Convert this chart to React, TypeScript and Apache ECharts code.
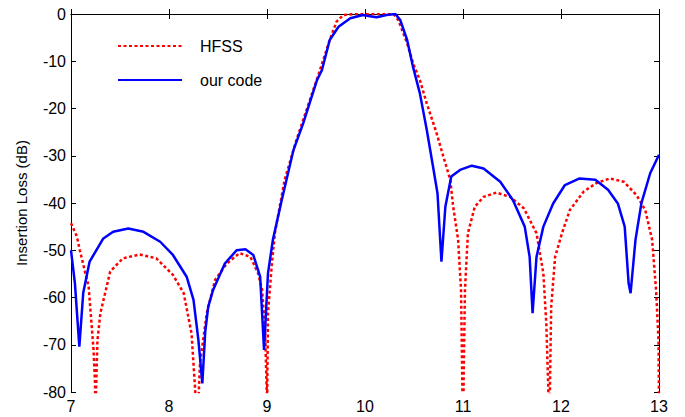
import React, { useEffect, useRef } from "react";
import * as echarts from "echarts";

const xTicks = [7, 8, 9, 10, 11, 12, 13];
const yTicks = [0, -10, -20, -30, -40, -50, -60, -70, -80];

const hfssFreq = [
  7.0, 7.06, 7.09, 7.18, 7.23, 7.245, 7.25, 7.255, 7.27, 7.3, 7.4, 7.53, 7.7, 7.87, 8.04, 8.15, 8.23, 8.265, 8.28,
  8.29, 8.3, 8.316, 8.385, 8.47, 8.59, 8.72, 8.83, 8.91, 8.95, 8.98, 8.997, 9.0, 9.003, 9.01, 9.05, 9.08, 9.18,
  9.3, 9.54, 9.64, 9.71, 9.78, 9.92, 10.1, 10.29, 10.34, 10.43, 10.49, 10.56, 10.63, 10.73, 10.8, 10.87, 10.9,
  10.95, 10.98, 10.993, 11.0, 11.007, 11.02, 11.05, 11.12, 11.21, 11.34, 11.48, 11.62, 11.75, 11.82, 11.85,
  11.87, 11.88, 11.89, 11.9, 11.94, 12.01, 12.09, 12.23, 12.36, 12.5, 12.64, 12.77, 12.86, 12.93, 12.97, 12.995,
  13.0,
];
const hfssLoss = [
  -44.3, -47.1, -50, -57.7, -71.1, -78, -90, -80, -69, -63.3, -54.5, -51.7, -50.9, -51.7, -55.2, -59.1, -67.6,
  -78.9, -85, -90, -82, -74, -63.3, -56.3, -52.8, -50.6, -51.4, -54.9, -58.4, -66.9, -79.6, -90, -78, -63.3,
  -52.8, -46.4, -35.1, -26.7, -11.9, -5.5, -1.6, -0.2, 0, 0, 0, -1.3, -6.2, -10.4, -14, -18.9, -25.2, -30.2,
  -35.1, -40.8, -47.8, -58.4, -78, -90, -76, -58.4, -46.4, -40.8, -38.7, -37.8, -38.7, -41.1, -46.4, -54.9,
  -65.5, -78.9, -90, -75, -61.9, -51.4, -46.4, -41.5, -37.6, -35.8, -34.8, -35.5, -38.3, -41.5, -47.8, -58.4,
  -69, -82,
];

const oursFreq = [
  7.0, 7.04, 7.085, 7.125, 7.19, 7.33, 7.43, 7.585, 7.74, 7.91, 8.04, 8.18, 8.25, 8.3, 8.34, 8.37, 8.4, 8.45,
  8.57, 8.69, 8.78, 8.86, 8.93, 8.97, 9.01, 9.06, 9.15, 9.27, 9.37, 9.51, 9.56, 9.64, 9.73, 9.85, 9.98, 10.05,
  10.12, 10.22, 10.31, 10.36, 10.43, 10.49, 10.56, 10.63, 10.7, 10.74, 10.78, 10.82, 10.88, 10.97, 11.09, 11.21,
  11.38, 11.51, 11.63, 11.68, 11.71, 11.75, 11.82, 11.92, 12.04, 12.19, 12.35, 12.48, 12.58, 12.65, 12.69,
  12.71, 12.76, 12.82, 12.91, 13.0,
];
const oursLoss = [
  -50, -57, -70.4, -59, -52.4, -47.5, -46.1, -45.4, -46.1, -48.2, -51, -55.6, -60.5, -69, -78.2, -67.2, -62,
  -58.4, -52.8, -50, -49.8, -51, -55.6, -71.1, -54.9, -47.8, -39.4, -28.8, -23.1, -14, -11.9, -5.5, -2.7, -0.9,
  -0.2, -0.5, -0.7, -0.2, 0, -1.3, -5.5, -11.2, -16.8, -24.5, -33, -38, -52.4, -40.8, -34.4, -33, -32.1, -32.7,
  -35.5, -39.4, -45, -51.4, -63.3, -51.4, -45, -40.1, -36.2, -34.8, -35.1, -37.2, -40.1, -45, -57, -59.1, -47.8,
  -40.1, -33.7, -29.8,
];

const FONT = "'Liberation Sans', Arial, sans-serif";

export default function App() {
  const ref = useRef<HTMLDivElement>(null);
  useEffect(() => {
    if (!ref.current) return;
    const chart = echarts.init(ref.current, null, { renderer: "svg" });
    const hfss = hfssFreq.map((x, i) => [x, hfssLoss[i]]);
    const ours = oursFreq.map((x, i) => [x, oursLoss[i]]);
    const axisLine = { show: true, lineStyle: { color: "#000", width: 1 } };
    const axisTick = { show: true, inside: true, length: 5, lineStyle: { color: "#000" } };
    const label = { color: "#000", fontSize: 16, fontFamily: FONT };
    chart.setOption({
      animation: false,
      backgroundColor: "#fff",
      textStyle: { fontFamily: FONT },
      grid: { left: 71, right: 26, top: 14, bottom: 25, containLabel: false },
      legend: {
        orient: "vertical",
        left: 112,
        top: 33,
        itemWidth: 64,
        itemHeight: 14,
        itemGap: 18,
        itemStyle: { opacity: 0 },
        textStyle: { color: "#000", fontSize: 16, fontFamily: FONT, padding: [0, 0, 0, 13] },
        data: ["HFSS", "our code"],
      },
      xAxis: [
        {
          type: "value",
          min: xTicks[0],
          max: xTicks[xTicks.length - 1],
          interval: 1,
          position: "bottom",
          axisLine,
          axisTick,
          splitLine: { show: false },
          axisLabel: { ...label, margin: 6 },
        },
        {
          type: "value",
          min: xTicks[0],
          max: xTicks[xTicks.length - 1],
          interval: 1,
          position: "top",
          axisLine,
          axisTick,
          splitLine: { show: false },
          axisLabel: { show: false },
        },
      ],
      yAxis: [
        {
          type: "value",
          min: yTicks[yTicks.length - 1],
          max: yTicks[0],
          interval: 10,
          position: "left",
          name: "Insertion Loss (dB)",
          nameLocation: "middle",
          nameGap: 42,
          nameTextStyle: { color: "#000", fontSize: 15, fontFamily: FONT },
          axisLine,
          axisTick,
          splitLine: { show: false },
          axisLabel: { ...label, margin: 5 },
        },
        {
          type: "value",
          min: yTicks[yTicks.length - 1],
          max: yTicks[0],
          interval: 10,
          position: "right",
          axisLine,
          axisTick,
          splitLine: { show: false },
          axisLabel: { show: false },
        },
      ],
      series: [
        {
          name: "HFSS",
          type: "line",
          data: hfss,
          symbol: "none",
          clip: true,
          lineStyle: { color: "#ff0000", width: 2.5, type: [3, 2.5] },
          itemStyle: { color: "#ff0000" },
          z: 2,
        },
        {
          name: "our code",
          type: "line",
          data: ours,
          symbol: "none",
          clip: true,
          lineStyle: { color: "#0000ff", width: 2.5 },
          itemStyle: { color: "#0000ff" },
          z: 3,
        },
      ],
    });
    return () => chart.dispose();
  }, []);
  return (
    <div
      ref={ref}
      style={{ position: "fixed", left: 0, top: 0, width: 685, height: 417, background: "#fff" }}
    />
  );
}
